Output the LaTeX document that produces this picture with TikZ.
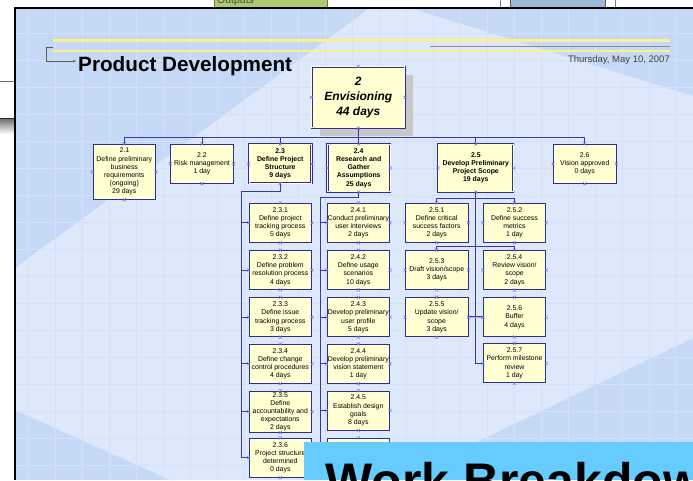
\documentclass[tikz,border=0pt]{standalone}
\usepackage{fontspec}
\setmainfont{Liberation Sans}
\usetikzlibrary{arrows.meta}
\definecolor{slidebg}{RGB}{197,216,246}
\definecolor{slidelight}{RGB}{221,232,251}
\definecolor{gridline}{RGB}{210,224,249}
\definecolor{boxfill}{RGB}{255,255,210}
\definecolor{boxline}{RGB}{45,45,150}
\definecolor{linkline}{RGB}{55,55,175}
\definecolor{markblue}{RGB}{110,110,235}
\definecolor{bannerblue}{RGB}{102,204,255}
\definecolor{headyellow}{RGB}{250,240,140}
\definecolor{outgreen}{RGB}{170,201,112}
\definecolor{topblue}{RGB}{160,184,216}
\def\boxfont{\fontsize{6.9}{8.2}\selectfont}
\def\xmarks#1{\foreach \anc in {north,south,east,west} {\draw[xmark] (#1.\anc) +(-1.5,-1.5) -- +(1.5,1.5) +(-1.5,1.5) -- +(1.5,-1.5);}}
\tikzset{
	wbsbox/.style={draw=boxline, fill=boxfill, line width=0.8pt, inner sep=0.6pt, minimum width=62.5pt, minimum height=39pt, align=center, font=\boxfont},
	sumbox/.style={wbsbox, font=\boxfont\bfseries, double=boxfill, double distance=0.9pt, line width=0.6pt},
	link/.style={draw=linkline, line width=0.9pt},
	xmark/.style={draw=markblue, line width=0.5pt},
}

\begin{document}
\begin{tikzpicture}[x=1pt, y=-1pt]
			%%%%% START %%%%%
			\useasboundingbox (0,0) rectangle (693,480);
			\clip (0,0) rectangle (693,480);
			\fill[white] (0,0) rectangle (693,480);
			
			% things behind the slide
			\draw[fill=outgreen, draw=outgreen!60!black] (214,-5) rectangle (327,7.5);
			\node[anchor=base west, font=\fontsize{10.5}{12}\selectfont, text=black!70, inner sep=0pt] (outputs) at (217,3.2) {Outputs};
			\draw[draw=topblue!70!black, line width=0.6pt] (500,-5) rectangle (615,7.5);
			\draw[fill=topblue, draw=topblue!50!black, line width=0.6pt] (510.7,-5) rectangle (605,7.5);
			\draw[draw=topblue!60!black, line width=0.8pt] (0,81.7) -- (14,81.7);
			\shade[top color=black!55, bottom color=white] (0,119) rectangle (14,134);
			\draw[black!85, line width=1.5pt] (0,118.3) -- (14,118.3);
			
			% slide
			\fill[slidebg] (14,8) rectangle (693,480);
			\fill[slidelight] (370,8) -- (410,8) -- (693,96) -- (693,338) -- (398,480) -- (170,480) -- (15,410) -- (15,268) -- cycle;
			\foreach \gx in {28,55,...,693} \draw[gridline, line width=0.4pt] (\gx,9) -- (\gx,480);
			\foreach \gy in {33,60,...,480} \draw[gridline, line width=0.4pt] (15,\gy) -- (693,\gy);
			\draw[black, line width=2pt] (14.5,480) -- (14.5,8.3) -- (693,8.3);
			
			% header
			\draw[headyellow, line width=2.8pt] (53,40.5) -- (670,40.5);
			\draw[headyellow, line width=2.8pt] (53,51) -- (670,51);
			\draw[black!45, line width=1pt] (430,46) -- (670,46);
			\draw[black!65, line width=0.7pt, -{Stealth[length=3pt,width=2.5pt]}] (53,47) -- (46,47) -- (46,61) -- (76,61);
			\node[anchor=base west, font=\fontsize{20.7}{24}\selectfont\bfseries, inner sep=0pt] (title) at (78,71) {Product Development};
			\node[anchor=base east, font=\fontsize{9.5}{11}\selectfont, text=black!75, inner sep=0pt] (date) at (670,62.7) {Thursday, May 10, 2007};
			
			% top
			\fill[black!22] (319.7,74.7) rectangle (413,136);
			\node[sumbox, font=\fontsize{12}{15}\selectfont\bfseries\itshape, minimum width=93pt, minimum height=61pt] (top) at (358.3,97.3) {2\\Envisioning\\44 days};
			
			% level 2
			\node[wbsbox, minimum height=55pt] (n21) at (124.3,171.8) {2.1\\Define preliminary\\business\\requirements\\(ongoing)\\29 days};
			\node[wbsbox] (n22) at (202,163.8) {2.2\\Risk management\\1 day};
			\node[sumbox] (n23) at (280.2,163.8) {2.3\\Define Project\\Structure\\9 days};
			\node[sumbox, minimum height=47.4pt] (n24) at (358.7,168) {2.4\\Research and\\Gather\\Assumptions\\25 days};
			\node[sumbox, minimum width=75pt, minimum height=47.4pt] (n25) at (475.8,168) {2.5\\Develop Preliminary\\Project Scope\\19 days};
			\node[wbsbox] (n26) at (584.7,163.8) {2.6\\Vision approved\\0 days};
			
			% 2.3
			\node[wbsbox] (n231) at (280.3,222.8) {2.3.1\\Define project\\tracking process\\5 days};
			\node[wbsbox] (n232) at (280.3,270) {2.3.2\\Define problem\\resolution process\\4 days};
			\node[wbsbox] (n233) at (280.3,317.2) {2.3.3\\Define issue\\tracking process\\3 days};
			\node[wbsbox] (n234) at (280.3,363.8) {2.3.4\\Define change\\control procedures\\4 days};
			\node[wbsbox, minimum height=41.3pt] (n235) at (280.3,411.7) {2.3.5\\Define\\accountability and\\expectations\\2 days};
			\node[wbsbox] (n236) at (280.3,457.8) {2.3.6\\Project structure\\determined\\0 days};
			
			% 2.4
			\node[wbsbox] (n241) at (358.3,222.8) {2.4.1\\Conduct preliminary\\user interviews\\2 days};
			\node[wbsbox] (n242) at (358.3,270) {2.4.2\\Define usage\\scenarios\\10 days};
			\node[wbsbox] (n243) at (358.3,317.2) {2.4.3\\Develop preliminary\\user profile\\5 days};
			\node[wbsbox] (n244) at (358.3,363.8) {2.4.4\\Develop preliminary\\vision statement\\1 day};
			\node[wbsbox] (n245) at (358.3,410.5) {2.4.5\\Establish design\\goals\\8 days};
			\node[wbsbox] (n246) at (358.3,457.8) {};
			
			% 2.5
			\node[wbsbox] (n251) at (436.7,222.8) {2.5.1\\Define critical\\success factors\\2 days};
			\node[wbsbox] (n252) at (514.5,222.8) {2.5.2\\Define success\\metrics\\1 day};
			\node[wbsbox] (n253) at (436.7,270) {2.5.3\\Draft vision/scope\\3 days};
			\node[wbsbox] (n254) at (514.5,270) {2.5.4\\Review vision/\\scope\\2 days};
			\node[wbsbox] (n255) at (436.7,317.2) {2.5.5\\Update vision/\\scope\\3 days};
			\node[wbsbox] (n256) at (514.5,317.2) {2.5.6\\Buffer\\4 days};
			\node[wbsbox] (n257) at (514.5,363.3) {2.5.7\\Perform milestone\\review\\1 day};
			
			% links
			\foreach \n in {n21,n22,n23,n24,n25,n26} \draw[link] (top.south) -- ++(0,9) -| (\n.north);
			
			\coordinate (t23) at (241.7,191.7);
			\draw[link] (n23.south) |- (t23) |- (n236.west);
			\foreach \k in {1,...,5} \draw[link] (t23 |- n23\k.west) -- (n23\k.west);
			
			\coordinate (t24) at (320.7,197.7);
			\draw[link] (n24.south) |- (t24) |- (n246.west);
			\foreach \k in {1,...,5} \draw[link] (t24 |- n24\k.west) -- (n24\k.west);
			
			\draw[link] (n25.south) -- ++(0,6) -| (n251.north);
			\draw[link] (n25.south) -- ++(0,6) -| (n252.north);
			\draw[link] (n25.south) |- (n257.west);
			\draw[link] (n253.north) -- ++(0,-4) -| (n254.north);
			\draw[link, double=linkline!40, double distance=0.8pt, line width=0.6pt] (n255.east) -- (n256.west);
			
			% connection marks
			\foreach \n in {top,n21,n22,n23,n24,n25,n26,n231,n232,n233,n234,n235,n236,n241,n242,n243,n244,n245,n246,n251,n252,n253,n254,n255,n256,n257} {\xmarks{\n}}
			
			% banner
			\fill[bannerblue] (304,441.7) rectangle (693,480);
			\node[anchor=base west, font=\fontsize{50}{60}\selectfont\bfseries, inner sep=0pt] (banner) at (325,498.8) {Work Breakdown};
			%%%%% END %%%%%
\end{tikzpicture}
\end{document}
